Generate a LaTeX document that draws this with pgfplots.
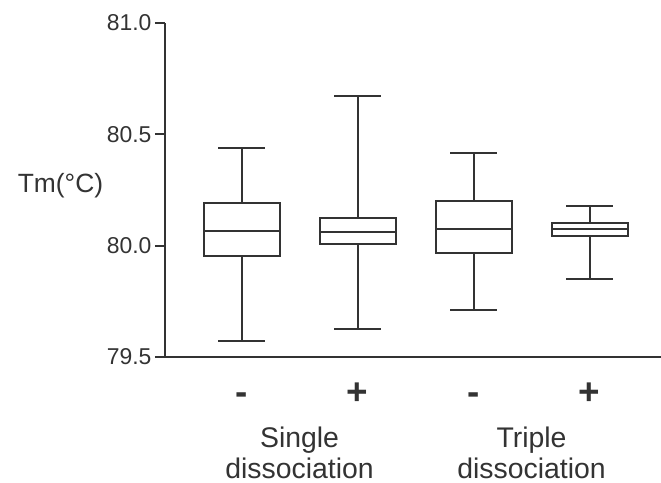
\documentclass[border=0pt]{standalone}
\usepackage{fontspec}
\setmainfont{Liberation Sans}
\usepackage{pgfplots}
\pgfplotsset{compat=1.18}
\usepgfplotslibrary{statistics}

\definecolor{fg}{gray}{0.2}

\pgfplotsset{
    tmbox/.style={draw=fg, line width=2bp, solid,
        boxplot/draw direction=y,
        boxplot/box extend=0.655,
        boxplot/whisker extend=0.4,
        boxplot/every box/.style={draw=fg, line width=2bp},
        boxplot/every whisker/.style={draw=fg, line width=2bp},
        boxplot/every median/.style={draw=fg, line width=2bp}},
}

\begin{document}
\begin{tikzpicture}
\begin{axis}[
    name=ax,
    scale only axis,
    width=496bp, height=334bp,
    xmin=0.34, xmax=4.616,
    ymin=79.5, ymax=81.0,
    axis x line=bottom, axis y line=left,
    axis line style={-, draw=fg, line width=2bp},
    ytick={79.5,80.0,80.5,81.0},
    /pgf/number format/fixed,
    /pgf/number format/fixed zerofill,
    /pgf/number format/precision=1,
    /pgf/number format/assume math mode=true,
    tick align=outside,
    major tick length=10bp,
    ytick style={draw=fg, line width=2bp},
    xtick={1,2,3,4},
    xticklabels={-,+,-,+},
    xtick style={draw=none},
    xticklabel style={anchor=base, yshift=-37bp, font=\fontsize{37}{40}\selectfont\bfseries, text=fg},
    yticklabel style={font=\fontsize{23}{26}\selectfont, text=fg},
    clip=false,
]
\addplot[tmbox, boxplot prepared={
    draw position=1, lower whisker=79.571, lower quartile=79.952,
    median=80.066, upper quartile=80.19, upper whisker=80.438}] coordinates {};
\addplot[tmbox, boxplot prepared={
    draw position=2, lower whisker=79.626, lower quartile=80.008,
    median=80.061, upper quartile=80.124, upper whisker=80.673}] coordinates {};
\addplot[tmbox, boxplot prepared={
    draw position=3, lower whisker=79.713, lower quartile=79.965,
    median=80.076, upper quartile=80.202, upper whisker=80.414}] coordinates {};
\addplot[tmbox, boxplot prepared={
    draw position=4, lower whisker=79.849, lower quartile=80.043,
    median=80.073, upper quartile=80.103, upper whisker=80.178}] coordinates {};

\node[anchor=base, text=fg, font=\fontsize{28.5}{30}\selectfont, yshift=-90bp, inner sep=0pt] at (axis cs:1.5,79.5) {Single};
\node[anchor=base, text=fg, font=\fontsize{28.5}{30}\selectfont, yshift=-121bp, inner sep=0pt] at (axis cs:1.5,79.5) {dissociation};
\node[anchor=base, text=fg, font=\fontsize{28.5}{30}\selectfont, yshift=-90bp, inner sep=0pt] at (axis cs:3.5,79.5) {Triple};
\node[anchor=base, text=fg, font=\fontsize{28.5}{30}\selectfont, yshift=-121bp, inner sep=0pt] at (axis cs:3.5,79.5) {dissociation};
\node[anchor=base, text=fg, font=\fontsize{26.5}{28}\selectfont, xshift=-104.5bp, yshift=164bp] at (rel axis cs:0,0) {Tm(°C)};
\end{axis}
\pgfresetboundingbox
\path ([shift={(-165bp,-126bp)}]ax.south west) rectangle ([shift={(496bp,357bp)}]ax.south west);
\end{tikzpicture}
\end{document}
